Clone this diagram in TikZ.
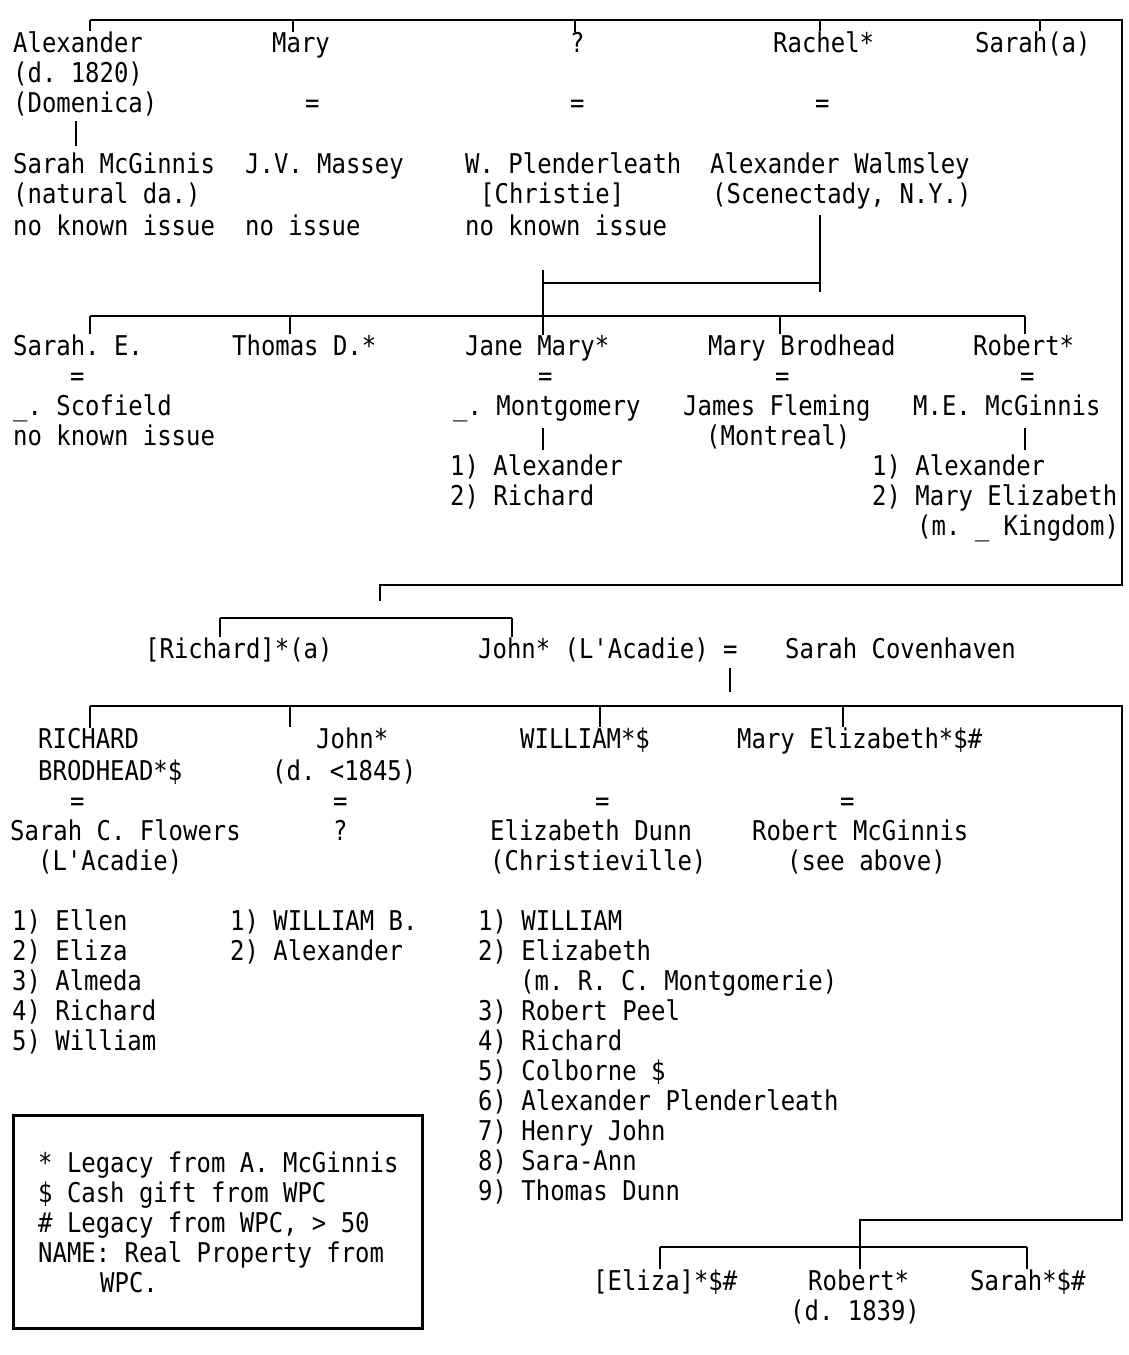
\documentclass[tikz,border=0pt]{standalone}
\usepackage{fontspec}
\setmonofont{DejaVu Sans Mono}[FakeStretch=0.88]
\usepackage{tikz}

\tikzset{
  typed/.style={anchor=base west, inner sep=0pt, font=\ttfamily\fontsize{27.2}{30}\selectfont},
  rule/.style={line width=2.5pt},
}

\begin{document}
\begin{tikzpicture}[x=1pt,y=-1pt]
  \useasboundingbox[fill=white] (0,0) rectangle (1129,1355);

  % first generation
  \node[typed] (alex) at (13,52) {Alexander};
  \node[typed] (alexd) at (13,82) {(d. 1820)};
  \node[typed] (alexdom) at (13,112) {(Domenica)};
  \node[typed] (mary) at (272,52) {Mary};
  \node[typed] (maryeq) at (305,112) {=};
  \node[typed] (unkn) at (570,52) {?};
  \node[typed] (unkneq) at (570,112) {=};
  \node[typed] (rachel) at (773,52) {Rachel*};
  \node[typed] (racheleq) at (815,112) {=};
  \node[typed] (sarah) at (975,52) {Sarah(a)};

  \node[typed] (sarahmc) at (13,173) {Sarah McGinnis};
  \node[typed] (sarahmc2) at (13,203) {(natural da.)};
  \node[typed] (sarahmc3) at (13,235) {no known issue};
  \node[typed] (massey) at (245,173) {J.V. Massey};
  \node[typed] (massey2) at (245,235) {no issue};
  \node[typed] (plend) at (465,173) {W. Plenderleath};
  \node[typed] (plend2) at (480,203) {[Christie]};
  \node[typed] (plend3) at (465,235) {no known issue};
  \node[typed] (walms) at (710,173) {Alexander Walmsley};
  \node[typed] (walms2) at (712,203) {(Scenectady, N.Y.)};

  \coordinate (t1) at (90,20);
  \coordinate (t2) at (293,20);
  \coordinate (t3) at (575,20);
  \coordinate (t4) at (820,20);
  \coordinate (t5) at (1040,20);
  \coordinate (tr) at (1122,20);
  \coordinate (rc) at (1122,585);
  \coordinate (rl) at (380,585);
  \coordinate (rd) at (380,601);
  \draw[rule] (t1) -- (tr) -- (rc) -- (rl) -- (rd);
  \draw[rule] (t1) -- (t1 |- alex.north);
  \draw[rule] (t2) -- (t2 |- mary.north);
  \draw[rule] (t3) -- (t3 |- unkn.north);
  \draw[rule] (t4) -- (t4 |- rachel.north);
  \draw[rule] (t5) -- (t5 |- sarah.north);
  \coordinate (a1) at (76,121);
  \coordinate (a2) at (76,146);
  \draw[rule] (a1) -- (a2);

  % Walmsley children
  \coordinate (w1) at (820,215);
  \coordinate (w2) at (820,292);
  \coordinate (w3) at (543,283);
  \coordinate (w4) at (543,270);
  \coordinate (w5) at (543,316);
  \draw[rule] (w1) -- (w2);
  \draw[rule] (w3) -- (w3 -| w2);
  \draw[rule] (w4) -- (w5);

  \node[typed] (sarahe) at (13,355) {Sarah. E.};
  \node[typed] (sarahe2) at (70,385) {=};
  \node[typed] (sarahe3) at (13,415) {\_. Scofield};
  \node[typed] (sarahe4) at (13,445) {no known issue};
  \node[typed] (thomas) at (232,355) {Thomas D.*};
  \node[typed] (jane) at (465,355) {Jane Mary*};
  \node[typed] (jane2) at (538,385) {=};
  \node[typed] (jane3) at (453,415) {\_. Montgomery};
  \node[typed] (jane4) at (450,475) {1) Alexander};
  \node[typed] (jane5) at (450,505) {2) Richard};
  \node[typed] (maryb) at (708,355) {Mary Brodhead};
  \node[typed] (maryb2) at (775,385) {=};
  \node[typed] (maryb3) at (683,415) {James Fleming};
  \node[typed] (maryb4) at (706,445) {(Montreal)};
  \node[typed] (robert) at (973,355) {Robert*};
  \node[typed] (robert2) at (1020,385) {=};
  \node[typed] (robert3) at (913,415) {M.E. McGinnis};
  \node[typed] (robert4) at (872,475) {1) Alexander};
  \node[typed] (robert5) at (872,505) {2) Mary Elizabeth};
  \node[typed] (robert6) at (917,535) {(m. \_ Kingdom)};

  \coordinate (m1) at (90,316);
  \coordinate (m2) at (290,316);
  \coordinate (m4) at (780,316);
  \coordinate (m5) at (1025,316);
  \draw[rule] (m1) -- (m5);
  \draw[rule] (m1) -- (m1 |- sarahe.north);
  \draw[rule] (m2) -- (m2 |- thomas.north);
  \draw[rule] (w5) -- (w5 |- jane.north);
  \draw[rule] (m4) -- (m4 |- maryb.north);
  \draw[rule] (m5) -- (m5 |- robert.north);
  \coordinate (j1) at (543,428);
  \coordinate (j2) at (543,450);
  \draw[rule] (j1) -- (j2);
  \coordinate (k1) at (1025,428);
  \coordinate (k2) at (1025,450);
  \draw[rule] (k1) -- (k2);

  % Richard and John
  \node[typed] (rich) at (145,658) {[Richard]*(a)};
  \node[typed] (john) at (478,658) {John* (L'Acadie) =};
  \node[typed] (coven) at (785,658) {Sarah Covenhaven};
  \coordinate (b1) at (220,618);
  \coordinate (b2) at (512,618);
  \draw[rule] (b1) -- (b2);
  \draw[rule] (b1) -- (b1 |- rich.north);
  \draw[rule] (b2) -- (b2 |- john.north);
  \coordinate (c1) at (730,668);
  \coordinate (c2) at (730,692);
  \draw[rule] (c1) -- (c2);

  % John's children
  \node[typed] (richd) at (38,748) {RICHARD};
  \node[typed] (richd2) at (38,780) {BRODHEAD*\$};
  \node[typed] (richd3) at (70,810) {=};
  \node[typed] (richd4) at (10,840) {Sarah C. Flowers};
  \node[typed] (richd5) at (38,870) {(L'Acadie)};
  \node[typed] (johnj) at (316,748) {John*};
  \node[typed] (johnj2) at (272,780) {(d. <1845)};
  \node[typed] (johnj3) at (333,810) {=};
  \node[typed] (johnj4) at (333,840) {?};
  \node[typed] (will) at (520,748) {WILLIAM*\$};
  \node[typed] (will2) at (595,810) {=};
  \node[typed] (will3) at (490,840) {Elizabeth Dunn};
  \node[typed] (will4) at (490,870) {(Christieville)};
  \node[typed] (marye) at (737,748) {Mary Elizabeth*\$\#};
  \node[typed] (marye2) at (840,810) {=};
  \node[typed] (marye3) at (752,840) {Robert McGinnis};
  \node[typed] (marye4) at (787,870) {(see above)};

  \coordinate (d1) at (90,706);
  \coordinate (d2) at (290,706);
  \coordinate (d3) at (600,706);
  \coordinate (d4) at (843,706);
  \coordinate (dr) at (1122,706);
  \coordinate (dc) at (1122,1220);
  \coordinate (dl) at (860,1220);
  \coordinate (dm) at (860,1247);
  \draw[rule] (d1) -- (dr) -- (dc) -- (dl) -- (dm);
  \draw[rule] (d1) -- (d1 |- richd.north);
  \draw[rule] (d2) -- (d2 |- johnj.north);
  \draw[rule] (d3) -- (d3 |- will.north);
  \draw[rule] (d4) -- (d4 |- marye.north);

  \node[typed] (ra) at (12,930) {1) Ellen};
  \node[typed] (rb) at (12,960) {2) Eliza};
  \node[typed] (rc3) at (12,990) {3) Almeda};
  \node[typed] (rd4) at (12,1020) {4) Richard};
  \node[typed] (re) at (12,1050) {5) William};
  \node[typed] (ja) at (230,930) {1) WILLIAM B.};
  \node[typed] (jb) at (230,960) {2) Alexander};
  \node[typed] (wa) at (478,930) {1) WILLIAM};
  \node[typed] (wb) at (478,960) {2) Elizabeth};
  \node[typed] (wb2) at (520,990) {(m. R. C. Montgomerie)};
  \node[typed] (wc) at (478,1020) {3) Robert Peel};
  \node[typed] (wd) at (478,1050) {4) Richard};
  \node[typed] (we) at (478,1080) {5) Colborne \$};
  \node[typed] (wf) at (478,1110) {6) Alexander Plenderleath};
  \node[typed] (wg) at (478,1140) {7) Henry John};
  \node[typed] (wh) at (478,1170) {8) Sara-Ann};
  \node[typed] (wi) at (478,1200) {9) Thomas Dunn};

  % legend
  \draw[line width=3pt] (13,1115) rectangle (422,1328);
  \node[typed] (leg1) at (38,1172) {* Legacy from A. McGinnis};
  \node[typed] (leg2) at (38,1202) {\$ Cash gift from WPC};
  \node[typed] (leg3) at (38,1232) {\# Legacy from WPC, > 50};
  \node[typed] (leg4) at (38,1262) {NAME: Real Property from};
  \node[typed] (leg5) at (100,1292) {WPC.};

  % Mary Elizabeth's children
  \node[typed] (eliza) at (593,1290) {[Eliza]*\$\#};
  \node[typed] (robt) at (808,1290) {Robert*};
  \node[typed] (robt2) at (790,1320) {(d. 1839)};
  \node[typed] (sarahs) at (970,1290) {Sarah*\$\#};
  \coordinate (e1) at (660,1247);
  \coordinate (e3) at (1027,1247);
  \draw[rule] (e1) -- (e3);
  \draw[rule] (e1) -- (e1 |- eliza.north);
  \draw[rule] (dm) -- (dm |- robt.north);
  \draw[rule] (e3) -- (e3 |- sarahs.north);
\end{tikzpicture}
\end{document}
